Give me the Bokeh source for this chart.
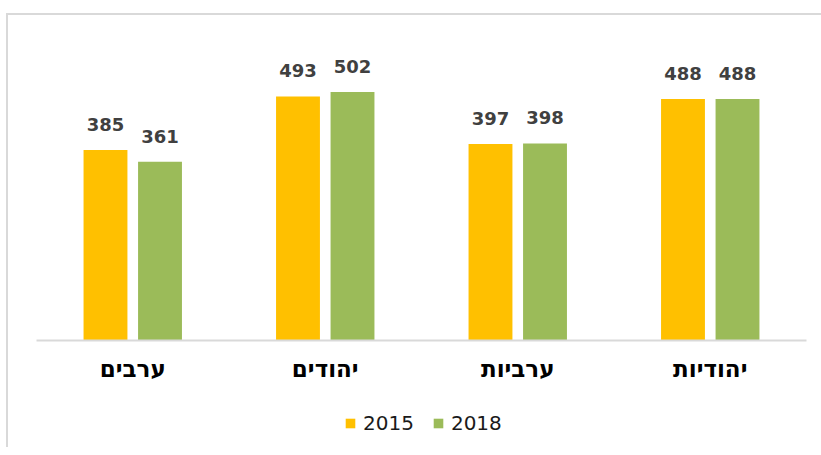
from bokeh.plotting import figure
from bokeh.models import ColumnDataSource, LabelSet, Legend, LegendItem, Range1d
from bokeh.layouts import column
from bokeh.transform import dodge
from bokeh.core.properties import value
from bokeh.embed import file_html
from bokeh.resources import INLINE

categories = ["ערבים", "יהודים", "ערביות", "יהודיות"]
v2015 = [385, 493, 397, 488]
v2018 = [361, 502, 398, 488]
series = ["2015", "2018"]
colors = ["#FFC000", "#9BBB59"]

src = ColumnDataSource(dict(cat=categories, a=v2015, b=v2018,
                            la=[str(v) for v in v2015], lb=[str(v) for v in v2018]))

p = figure(x_range=categories, y_range=Range1d(0, 600), width=813, height=385,
           output_backend="svg", toolbar_location=None,
           min_border_left=28, min_border_right=15, min_border_top=28, min_border_bottom=60)
p.outline_line_color = None
p.xgrid.visible = False
p.ygrid.visible = False
p.yaxis.visible = False
p.x_range.range_padding = 0

off = 0.1416
w = 0.228
p.vbar(x=dodge("cat", -off, range=p.x_range), top="a", width=w, source=src,
       fill_color=colors[0], line_color=None)
p.vbar(x=dodge("cat", off, range=p.x_range), top="b", width=w, source=src,
       fill_color=colors[1], line_color=None)

for col, lab, o in (("a", "la", -off), ("b", "lb", off)):
    ls = LabelSet(x=dodge("cat", o, range=p.x_range), y=col, text=lab, source=src,
                  text_align="center", text_baseline="alphabetic", y_offset=19,
                  text_font=value("DejaVu Sans"), text_font_style="bold",
                  text_font_size="18px", text_color="#404040")
    p.add_layout(ls)

ax = p.xaxis[0]
ax.axis_line_color = "#d9d9d9"
ax.axis_line_width = 2
ax.major_tick_line_color = None
ax.minor_tick_line_color = None
ax.major_label_text_font = "DejaVu Sans"
ax.major_label_text_font_style = "bold"
ax.major_label_text_font_size = "23px"
ax.major_label_text_color = "#000000"
ax.major_label_standoff = 9

# legend strip
lg = figure(width=813, height=47, output_backend="svg", toolbar_location=None,
            x_range=(0, 1), y_range=(0, 1), min_border=0)
lg.axis.visible = False
lg.grid.visible = False
lg.outline_line_color = None
dummy = ColumnDataSource(dict(x=[-10], top=[0]))
lr1 = lg.vbar(x="x", top="top", width=1, source=dummy, fill_color=colors[0], line_color=None)
lr2 = lg.vbar(x="x", top="top", width=1, source=dummy, fill_color=colors[1], line_color=None)
legend = Legend(items=[LegendItem(label=series[0], renderers=[lr1]),
                       LegendItem(label=series[1], renderers=[lr2])],
                orientation="horizontal", location=(308, 12),
                glyph_width=12, glyph_height=12, spacing=18, padding=0, margin=0,
                label_text_font="DejaVu Sans", label_text_font_size="20px",
                label_text_color="#1a1a1a",
                label_standoff=7, border_line_color=None, background_fill_alpha=0)
lg.add_layout(legend)

layout = column(p, lg, spacing=0,
                styles={"border-top": "2px solid #d9d9d9", "border-left": "2px solid #d9d9d9",
                        "margin-left": "6px", "margin-top": "13px"})

open("out.html", "w").write(file_html(layout, INLINE))
